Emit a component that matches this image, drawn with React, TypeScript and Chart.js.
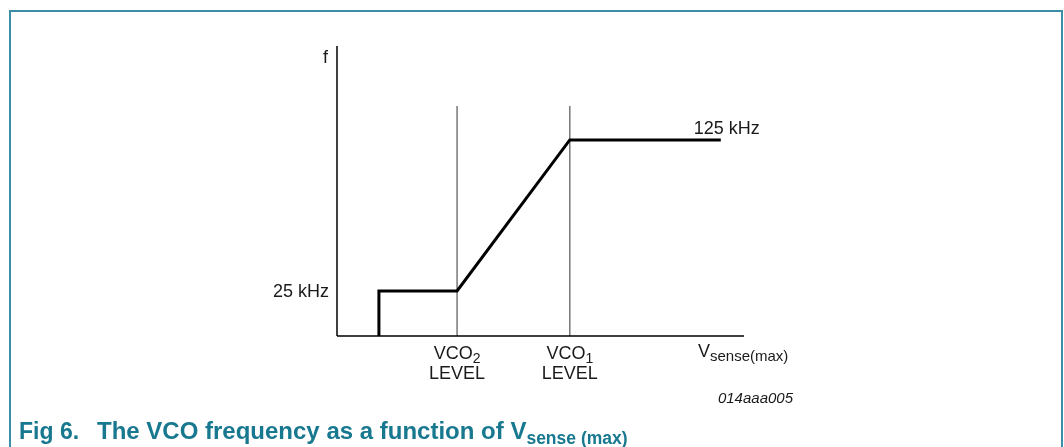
import React, { useEffect, useRef } from "react";
import { Chart, registerables } from "chart.js";

Chart.register(...registerables);

// ---- data (x: arbitrary V_sense(max) units, y: frequency in kHz) ----
const curveV = [10.3, 10.3, 29.5, 57.2, 94.3];
const curveF = [-4.8, 25, 25, 125, 125];
const levelV = [29.5, 57.2];
const levelNames = ["VCO", "VCO"];
const levelSubs = ["2", "1"];
const levelTopF = 147.5;
const vRange = [0, 100];
const fRange = [-4.8, 187.2];
const fTickValues = [25, 125];
const fTickLabels = ["25 kHz", "125 kHz"];
const yAxisLabel = "f";
const xAxisLabelMain = "V";
const xAxisLabelSub = "sense(max)";
const levelSecondLine = "LEVEL";
const figCode = "014aaa005";
const captionNum = "Fig 6.";
const captionText = "The VCO frequency as a function of V";
const captionSub = "sense (max)";

const FONT = "'Liberation Sans', Arial, Helvetica, sans-serif";
const BORDER = "#3a8ea6";
const CAPTION = "#17788f";
const TEXT = "#1a1a1a";

const overlayPlugin = {
  id: "overlay",
  afterDraw(chart: any) {
    const { ctx, scales } = chart;
    const x = scales.x;
    const y = scales.y;
    const x0 = x.getPixelForValue(vRange[0]);
    const yTop = y.getPixelForValue(fRange[1]);
    const yBase = y.getPixelForValue(fRange[0]);
    ctx.save();

    // frame
    ctx.strokeStyle = BORDER;
    ctx.lineWidth = 2;
    ctx.beginPath();
    ctx.moveTo(10, 447);
    ctx.lineTo(10, 11);
    ctx.lineTo(1062, 11);
    ctx.lineTo(1062, 447);
    ctx.stroke();

    ctx.fillStyle = TEXT;
    ctx.textBaseline = "alphabetic";

    // y axis label
    ctx.font = `18px ${FONT}`;
    ctx.textAlign = "right";
    ctx.fillText(yAxisLabel, x0 - 9, yTop + 17);

    // 25 kHz tick label (left of axis)
    ctx.textAlign = "right";
    ctx.textBaseline = "middle";
    ctx.fillText(fTickLabels[0], x0 - 8, y.getPixelForValue(fTickValues[0]) + 1);

    // 125 kHz label (above end of plateau)
    ctx.textAlign = "left";
    ctx.textBaseline = "alphabetic";
    ctx.fillText(fTickLabels[1], x.getPixelForValue(curveV[curveV.length - 1]) - 27, y.getPixelForValue(fTickValues[1]) - 6);

    // level labels
    levelV.forEach((v, i) => {
      const cx = x.getPixelForValue(v);
      ctx.font = `18px ${FONT}`;
      const mainW = ctx.measureText(levelNames[i]).width;
      ctx.font = `14px ${FONT}`;
      const subW = ctx.measureText(levelSubs[i]).width;
      const total = mainW + subW;
      ctx.textAlign = "left";
      ctx.font = `18px ${FONT}`;
      ctx.fillText(levelNames[i], cx - total / 2, yBase + 23);
      ctx.font = `14px ${FONT}`;
      ctx.fillText(levelSubs[i], cx - total / 2 + mainW, yBase + 27);
      ctx.font = `18px ${FONT}`;
      ctx.textAlign = "center";
      ctx.fillText(levelSecondLine, cx, yBase + 43);
    });

    // x axis label
    ctx.textAlign = "left";
    ctx.font = `18px ${FONT}`;
    ctx.fillText(xAxisLabelMain, 698, yBase + 21);
    const vw = ctx.measureText(xAxisLabelMain).width;
    ctx.font = `15px ${FONT}`;
    ctx.fillText(xAxisLabelSub, 698 + vw, yBase + 25);

    // figure code
    ctx.font = `italic 15px ${FONT}`;
    ctx.textAlign = "right";
    ctx.fillText(figCode, 793, yBase + 67);

    // caption
    ctx.fillStyle = CAPTION;
    ctx.textAlign = "left";
    ctx.font = `bold 23px ${FONT}`;
    ctx.fillText(captionNum, 19, 439);
    ctx.font = `bold 24px ${FONT}`;
    ctx.fillText(captionText, 97, 439);
    const cw = ctx.measureText(captionText).width;
    ctx.font = `bold 17.5px ${FONT}`;
    ctx.fillText(captionSub, 97 + cw, 444);

    ctx.restore();
  },
};

export default function App() {
  const ref = useRef<HTMLCanvasElement | null>(null);

  useEffect(() => {
    if (!ref.current) return;
    const levelSets = levelV.map((v) => ({
      data: [
        { x: v, y: fRange[0] },
        { x: v, y: levelTopF },
      ],
      borderColor: "#6e6e6e",
      borderWidth: 1.4,
      pointRadius: 0,
      showLine: true,
      clip: false as any,
      order: 3,
    }));
    const chart = new Chart(ref.current, {
      type: "scatter",
      data: {
        datasets: [
          ...levelSets,
          {
            data: [
              { x: vRange[0], y: fRange[0] },
              { x: vRange[1], y: fRange[0] },
            ],
            borderColor: "#000",
            borderWidth: 1.5,
            pointRadius: 0,
            showLine: true,
            clip: false as any,
            order: 2,
          },
          {
            data: [
              { x: vRange[0], y: fRange[0] },
              { x: vRange[0], y: fRange[1] },
            ],
            borderColor: "#000",
            borderWidth: 1.5,
            pointRadius: 0,
            showLine: true,
            clip: false as any,
            order: 2,
          },
          {
            data: curveV.map((v, i) => ({ x: v, y: curveF[i] })),
            borderColor: "#000",
            borderWidth: 3,
            pointRadius: 0,
            showLine: true,
            clip: false as any,
            borderJoinStyle: "miter",
            order: 1,
          },
        ],
      },
      options: {
        animation: false,
        responsive: false,
        devicePixelRatio: 1,
        layout: { padding: { left: 337, right: 320, top: 46, bottom: 111 } },
        plugins: { legend: { display: false }, tooltip: { enabled: false } },
        events: [],
        scales: {
          x: { type: "linear", min: vRange[0], max: vRange[1], display: false },
          y: { type: "linear", min: fRange[0], max: fRange[1], display: false },
        },
      },
      plugins: [overlayPlugin],
    });
    return () => chart.destroy();
  }, []);

  return (
    <div style={{ position: "absolute", left: 0, top: 0, width: 1064, height: 447, background: "#fff" }}>
      <canvas ref={ref} width={1064} height={447} style={{ width: 1064, height: 447 }} />
    </div>
  );
}
